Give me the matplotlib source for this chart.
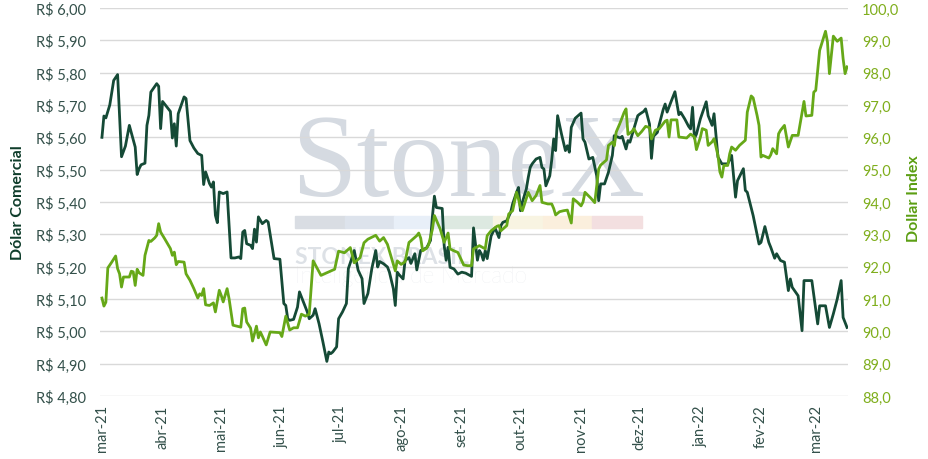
import matplotlib
matplotlib.use("Agg")
import matplotlib.pyplot as plt
import matplotlib.dates as mdates
import matplotlib.patches as mpatches
import numpy as np
import pandas as pd

# ---------------- data ----------------
start_date = "2021-03-01"

# Dólar Comercial (R$) : days since start_date, value
brl_days = [0, 1, 2, 4, 6, 8, 10, 12, 14, 17, 18, 19, 20, 22, 23, 24, 25, 28, 29, 30,
            31, 35, 36, 37, 38, 39, 42, 43, 45, 47, 49, 51, 52, 53, 55, 56, 57, 58, 59, 60,
            62, 64, 66, 68, 70, 71, 72, 73, 74, 76, 77, 78, 79, 80, 82, 84, 85, 88, 91, 93,
            94, 95, 96, 98, 100, 101, 103, 105, 106, 108, 109, 111, 113, 115, 116, 117, 118, 120, 121, 123,
            125, 126, 128, 129, 131, 133, 134, 136, 138, 140, 141, 142, 144, 146, 147, 149, 150, 151, 152, 154,
            155, 157, 158, 160, 161, 163, 166, 168, 169, 170, 171, 174, 175, 176, 177, 178, 180, 182, 184, 186,
            189, 190, 192, 193, 194, 195, 196, 197, 199, 201, 203, 204, 205, 207, 209, 210, 212, 213, 214, 215,
            217, 218, 219, 220, 222, 224, 225, 226, 227, 229, 230, 231, 232, 233, 235, 237, 238, 239, 240, 242,
            245, 246, 247, 249, 251, 253, 254, 255, 257, 259, 261, 262, 265, 266, 268, 269, 270, 271, 274, 275,
            277, 278, 280, 281, 282, 284, 285, 287, 288, 289, 291, 293, 295, 296, 298, 300, 301, 302, 303, 304,
            306, 309, 310, 312, 313, 315, 317, 320, 322, 324, 325, 328, 329, 330, 333, 336, 337, 339, 341, 342,
            344, 345, 347, 349, 351, 352, 353, 356, 358, 359, 363, 366, 367, 370, 372, 374, 376, 378, 379, 381]
brl_values = [5.600, 5.666, 5.660, 5.700, 5.776, 5.794, 5.540, 5.573, 5.637, 5.570, 5.485, 5.503, 5.515, 5.520, 5.637, 5.668, 5.740, 5.766, 5.758, 5.627,
              5.711, 5.680, 5.598, 5.642, 5.573, 5.673, 5.725, 5.720, 5.590, 5.567, 5.550, 5.544, 5.454, 5.493, 5.457, 5.446, 5.462, 5.359, 5.336, 5.431,
              5.426, 5.431, 5.227, 5.227, 5.230, 5.225, 5.307, 5.312, 5.271, 5.266, 5.256, 5.316, 5.276, 5.354, 5.333, 5.343, 5.338, 5.225, 5.223, 5.086,
              5.080, 5.039, 5.034, 5.037, 5.075, 5.122, 5.091, 5.060, 5.039, 5.050, 5.070, 5.024, 4.967, 4.907, 4.936, 4.931, 4.936, 4.952, 5.039, 5.060,
              5.086, 5.194, 5.230, 5.250, 5.189, 5.163, 5.086, 5.117, 5.194, 5.250, 5.199, 5.216, 5.209, 5.199, 5.183, 5.132, 5.080, 5.183, 5.175, 5.162,
              5.219, 5.228, 5.210, 5.240, 5.190, 5.250, 5.258, 5.281, 5.356, 5.418, 5.383, 5.380, 5.265, 5.220, 5.260, 5.198, 5.193, 5.177, 5.183, 5.180,
              5.170, 5.320, 5.220, 5.250, 5.240, 5.220, 5.250, 5.225, 5.295, 5.320, 5.290, 5.327, 5.337, 5.342, 5.368, 5.394, 5.430, 5.445, 5.373, 5.400,
              5.440, 5.476, 5.507, 5.518, 5.533, 5.538, 5.507, 5.502, 5.450, 5.481, 5.530, 5.595, 5.559, 5.667, 5.610, 5.559, 5.574, 5.554, 5.631, 5.659,
              5.675, 5.595, 5.585, 5.533, 5.538, 5.481, 5.404, 5.456, 5.456, 5.492, 5.544, 5.605, 5.598, 5.603, 5.564, 5.590, 5.585, 5.606, 5.667, 5.672,
              5.680, 5.688, 5.641, 5.535, 5.603, 5.615, 5.640, 5.686, 5.703, 5.678, 5.710, 5.741, 5.670, 5.677, 5.657, 5.634, 5.626, 5.693, 5.597, 5.610,
              5.657, 5.710, 5.667, 5.637, 5.673, 5.539, 5.518, 5.518, 5.544, 5.415, 5.466, 5.503, 5.436, 5.430, 5.358, 5.270, 5.275, 5.324, 5.275, 5.260,
              5.226, 5.240, 5.219, 5.214, 5.126, 5.162, 5.136, 5.110, 5.002, 5.157, 5.157, 5.023, 5.079, 5.079, 5.012, 5.054, 5.100, 5.157, 5.043, 5.012]

# Dollar Index : days since start_date, value
dxy_days = [0, 1, 2, 3, 5, 7, 8, 9, 10, 11, 14, 15, 16, 17, 18, 19, 21, 22, 24, 25,
            27, 28, 29, 30, 32, 35, 36, 37, 38, 39, 42, 43, 45, 47, 49, 50, 51, 52, 53, 55,
            57, 58, 60, 61, 62, 64, 65, 67, 71, 72, 73, 74, 76, 77, 79, 80, 81, 82, 84, 86,
            91, 92, 94, 96, 98, 100, 102, 104, 106, 108, 112, 115, 119, 121, 124, 127, 129, 132, 134, 136,
            140, 142, 144, 146, 148, 150, 151, 153, 155, 157, 158, 161, 162, 163, 164, 166, 167, 169, 170, 173,
            175, 177, 178, 180, 182, 185, 187, 189, 190, 193, 196, 197, 199, 202, 203, 204, 207, 208, 210, 212,
            213, 214, 215, 218, 220, 222, 224, 225, 228, 230, 231, 232, 234, 236, 238, 240, 241, 243, 245, 246,
            247, 250, 252, 254, 255, 258, 259, 261, 262, 263, 265, 267, 268, 269, 271, 272, 274, 276, 278, 280,
            281, 283, 285, 288, 289, 290, 291, 294, 295, 299, 301, 303, 304, 306, 307, 309, 310, 312, 313, 315,
            316, 317, 318, 320, 321, 322, 324, 326, 329, 330, 332, 333, 335, 336, 337, 338, 341, 342, 343, 345,
            346, 347, 349, 351, 353, 356, 359, 360, 363, 364, 365, 367, 370, 371, 372, 374, 376, 378, 379, 380,
            381]
dxy_values = [91.03, 90.78, 90.90, 91.96, 92.14, 92.33, 91.94, 91.78, 91.37, 91.68, 91.68, 91.86, 91.84, 91.42, 91.92, 91.81, 91.73, 92.35, 92.81, 92.78,
              92.89, 92.97, 93.33, 93.07, 92.87, 92.56, 92.35, 92.45, 92.06, 92.16, 92.14, 91.78, 91.58, 91.32, 91.03, 91.16, 91.11, 91.32, 90.82, 90.80,
              90.88, 90.60, 91.27, 91.11, 90.91, 91.32, 91.01, 90.19, 90.13, 90.70, 90.72, 90.29, 90.10, 89.70, 90.16, 89.80, 89.98, 89.85, 89.58, 89.98,
              89.96, 89.84, 90.47, 90.04, 90.11, 90.11, 90.53, 90.47, 90.53, 92.18, 91.73, 91.81, 91.92, 92.48, 92.43, 92.59, 92.12, 92.28, 92.74, 92.85,
              92.97, 92.79, 92.90, 92.69, 92.28, 91.87, 92.18, 92.07, 92.15, 92.75, 92.80, 92.96, 93.04, 92.88, 92.49, 92.57, 92.67, 93.16, 93.58, 93.16,
              92.75, 93.04, 92.55, 92.49, 92.44, 92.05, 92.03, 92.03, 92.55, 92.65, 92.55, 92.96, 93.11, 93.25, 93.27, 93.11, 93.27, 93.63, 93.73, 94.30,
              94.09, 93.84, 93.73, 94.30, 94.04, 94.20, 94.51, 93.99, 93.94, 93.94, 93.80, 93.60, 93.70, 93.73, 93.75, 93.35, 94.10, 94.00, 93.88, 94.00,
              94.30, 94.12, 93.98, 95.02, 95.14, 95.30, 95.75, 95.85, 95.74, 96.17, 96.45, 96.77, 96.88, 96.09, 96.18, 96.27, 96.05, 96.18, 96.34, 96.30,
              95.95, 96.22, 96.27, 96.50, 96.53, 96.01, 96.54, 96.54, 96.01, 95.98, 96.10, 96.01, 95.62, 96.00, 96.27, 96.22, 95.75, 95.86, 95.96, 95.44,
              94.93, 94.77, 95.13, 95.13, 95.49, 95.70, 95.60, 95.75, 95.91, 96.78, 97.28, 97.22, 96.68, 96.37, 95.39, 95.44, 95.36, 95.46, 95.65, 95.49,
              96.11, 96.22, 96.37, 95.70, 96.06, 96.06, 97.11, 96.66, 96.68, 97.40, 97.45, 98.69, 99.28, 98.95, 97.97, 99.13, 98.97, 99.07, 98.43, 97.97,
              98.18]

month_ticks = ["2021-03-01", "2021-04-01", "2021-05-01", "2021-06-01", "2021-07-01", "2021-08-01",
               "2021-09-01", "2021-10-01", "2021-11-01", "2021-12-01", "2022-01-01", "2022-02-01",
               "2022-03-01"]
month_labels = ["mar-21", "abr-21", "mai-21", "jun-21", "jul-21", "ago-21", "set-21", "out-21",
                "nov-21", "dez-21", "jan-22", "fev-22", "mar-22"]
left_ticks = [4.80, 4.90, 5.00, 5.10, 5.20, 5.30, 5.40, 5.50, 5.60, 5.70, 5.80, 5.90, 6.00]
right_ticks = [88, 89, 90, 91, 92, 93, 94, 95, 96, 97, 98, 99, 100]

left_label = "Dólar Comercial"
right_label = "Dollar Index"

# ---------------- styling ----------------
plt.rcParams['font.family'] = ['Lato', 'DejaVu Sans']
DARK = "#154a36"
LIGHT = "#66a818"
TICK_L = "#33504a"
TICK_R = "#7fae1c"

base = pd.Timestamp(start_date)
brl_dates = base + pd.to_timedelta(brl_days, unit="D")
dxy_dates = base + pd.to_timedelta(dxy_days, unit="D")

fig = plt.figure(figsize=(9.29, 4.60), dpi=100)
ax = fig.add_axes([100/929, 1-397/460, 748/929, 388/460])
ax2 = ax.twinx()

# watermark
fig.text(291/929, 1-196/460, "StoneX", family="Liberation Serif", fontsize=85,
         color="#d5dae1", va="baseline", ha="left", zorder=0)
seg_cols = ["#d9dde3", "#dde3ec", "#e8eff8", "#dde9e1", "#f8f4e2", "#fbefdd", "#f3dfe0"]
seg_w = 347/7
for i, c in enumerate(seg_cols):
    fig.patches.append(mpatches.Rectangle(((295 + i*seg_w)/929, 1-229/460), seg_w/929, 12/460,
                                          transform=fig.transFigure, color=c, zorder=0))
fig.text(295/929, 1-264/460, "STONEX BRASIL", fontsize=16.5, fontweight="bold",
         color="#dde1e6", va="baseline", ha="left", zorder=0)
fig.text(295/929, 1-283/460, "Inteligência de Mercado", fontsize=16.5, fontweight="light",
         color="#e3e6ea", va="baseline", ha="left", zorder=0)

ax.set_zorder(1)
ax2.set_zorder(2)
ax.patch.set_visible(False)
ax2.patch.set_visible(False)

ax.plot(brl_dates, brl_values, color=DARK, lw=2.0, solid_joinstyle="round")
ax2.plot(dxy_dates, dxy_values, color=LIGHT, lw=2.0, solid_joinstyle="round")

ax.set_ylim(4.80, 6.00)
ax2.set_ylim(88, 100)
ax.set_yticks(left_ticks)
ax.set_yticklabels([("R$ %.2f" % v).replace(".", ",") for v in left_ticks])
ax2.set_yticks(right_ticks)
ax2.set_yticklabels([("%.1f" % v).replace(".", ",") for v in right_ticks])

ax.set_xlim(base - pd.Timedelta(days=1), base + pd.Timedelta(days=381.5))
ax.set_xticks(pd.to_datetime(month_ticks))
ax.set_xticklabels(month_labels, rotation=90)

ax.grid(axis="y", color="#d9d9d9", lw=1)
ax.set_axisbelow(True)
for a in (ax, ax2):
    for s in a.spines.values():
        s.set_visible(False)

ax.tick_params(axis="y", length=0, pad=10, labelsize=10.5, labelcolor=TICK_L)
ax.tick_params(axis="x", length=0, pad=6, labelsize=10.5, labelcolor=TICK_L)
ax2.tick_params(axis="y", length=0, pad=10, labelsize=10.5, labelcolor=TICK_R)

ax.set_ylabel(left_label, fontsize=11.5, fontweight="bold", color="#0f3d2b")
ax.yaxis.set_label_coords(-0.100, 0.5)
ax2.set_ylabel(right_label, fontsize=11.5, fontweight="bold", color="#5b9e12", rotation=90)
ax2.yaxis.set_label_coords(1.079, 0.51)

fig.savefig("out.png", dpi=100)
